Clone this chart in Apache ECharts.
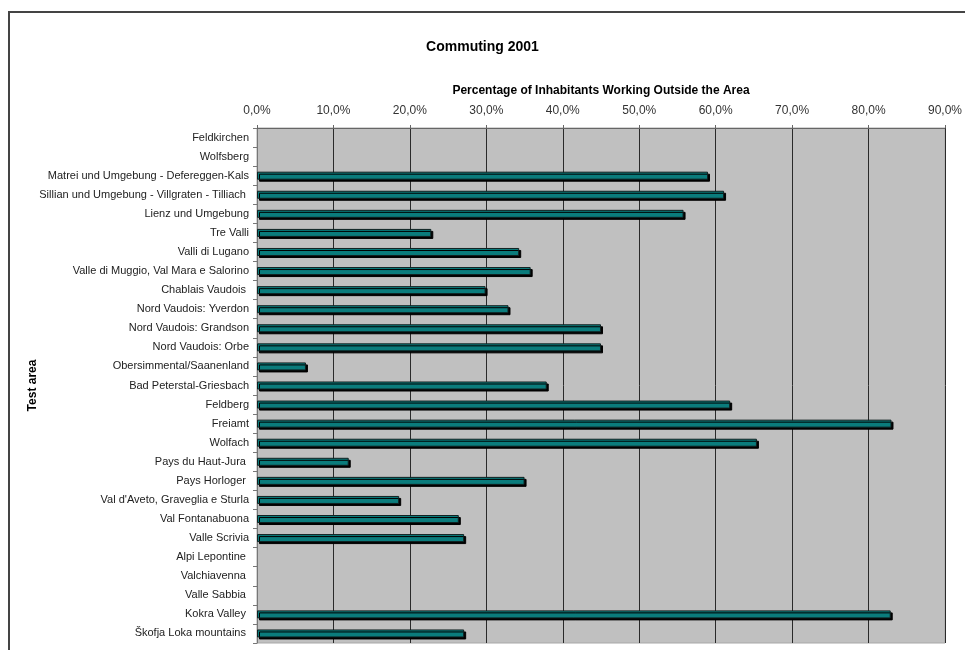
<!DOCTYPE html>
<html>
<head>
<meta charset="utf-8">
<script src="https://cdn.jsdelivr.net/npm/echarts@6/dist/echarts.min.js"></script>
<style>html,body{margin:0;padding:0;background:#fff;}#c{width:965px;height:650px;}</style>
</head>
<body>
<div id="c"></div>
<script>
var categories = [
  'Feldkirchen', 'Wolfsberg', 'Matrei und Umgebung - Defereggen-Kals',
  'Sillian und Umgebung - Villgraten - Tilliach ', 'Lienz und Umgebung', 'Tre Valli',
  'Valli di Lugano', 'Valle di Muggio, Val Mara e Salorino', 'Chablais Vaudois ',
  'Nord Vaudois: Yverdon', 'Nord Vaudois: Grandson', 'Nord Vaudois: Orbe',
  'Obersimmental/Saanenland', 'Bad Peterstal-Griesbach', 'Feldberg', 'Freiamt',
  'Wolfach', 'Pays du Haut-Jura ', 'Pays Horloger ', "Val d'Aveto, Graveglia e Sturla",
  'Val Fontanabuona', 'Valle Scrivia', 'Alpi Lepontine ', 'Valchiavenna ',
  'Valle Sabbia ', 'Kokra Valley ', 'Škofja Loka mountains '
];
var values = [
  null, null, 59.0, 61.1, 55.8, 22.8, 34.3, 35.8, 29.9, 32.9, 45.0, 45.0,
  6.4, 37.9, 61.9, 83.0, 65.4, 12.0, 35.0, 18.6, 26.4, 27.1, null, null,
  null, 82.9, 27.1
];
var xTicks = { min: 0, max: 90, interval: 10 };

var chart = echarts.init(document.getElementById('c'));
chart.setOption({
  animation: false,
  backgroundColor: '#ffffff',
  textStyle: { fontFamily: 'Liberation Sans, Arial, sans-serif' },
  title: {
    text: 'Commuting 2001',
    left: 'center',
    top: 35,
    textStyle: { fontSize: 14, fontWeight: 'bold', color: '#000', fontFamily: 'Liberation Sans, Arial, sans-serif' }
  },
  graphic: [{
    type: 'rect',
    shape: { x: 9, y: 12, width: 1000, height: 700 },
    style: { fill: 'none', stroke: '#444', lineWidth: 2 },
    silent: true, z: 100
  }],
  grid: {
    left: 257, right: 19, top: 128, bottom: 7,
    show: true, backgroundColor: '#c0c0c0', borderColor: '#a8a8a8', borderWidth: 1
  },
  xAxis: {
    type: 'value',
    position: 'top',
    min: xTicks.min, max: xTicks.max, interval: xTicks.interval,
    name: 'Percentage of Inhabitants Working Outside the Area',
    nameLocation: 'middle',
    nameGap: 31,
    nameMoveOverlap: false,
    nameTextStyle: { fontSize: 12, fontWeight: 'bold', color: '#000' },
    axisLine: { show: true, lineStyle: { color: '#666', width: 1 } },
    axisTick: { show: true, length: 3, lineStyle: { color: '#666' } },
    axisLabel: {
      fontSize: 12, color: '#333', margin: 11,
      formatter: function (v) { return v.toFixed(1).replace('.', ',') + '%'; }
    },
    splitLine: { show: true, lineStyle: { color: '#2a2a2a', width: 1 } }
  },
  yAxis: {
    type: 'category',
    inverse: true,
    data: categories,
    name: 'Test area',
    nameLocation: 'middle',
    nameRotate: 90,
    nameGap: 218,
    nameMoveOverlap: false,
    nameTextStyle: { fontSize: 12, fontWeight: 'bold', color: '#000' },
    axisLine: { show: true, lineStyle: { color: '#777', width: 1 } },
    axisTick: { show: true, length: 4, lineStyle: { color: '#777' } },
    axisLabel: { fontSize: 11, color: '#222', margin: 8, interval: 0 }
  },
  series: [{
    type: 'bar',
    data: values,
    barWidth: 8,
    itemStyle: {
      color: '#0a7c7c',
      borderColor: '#102020',
      borderWidth: 1,
      shadowColor: '#000',
      shadowBlur: 0,
      shadowOffsetX: 2,
      shadowOffsetY: 2
    }
  }]
});
</script>
</body>
</html>
